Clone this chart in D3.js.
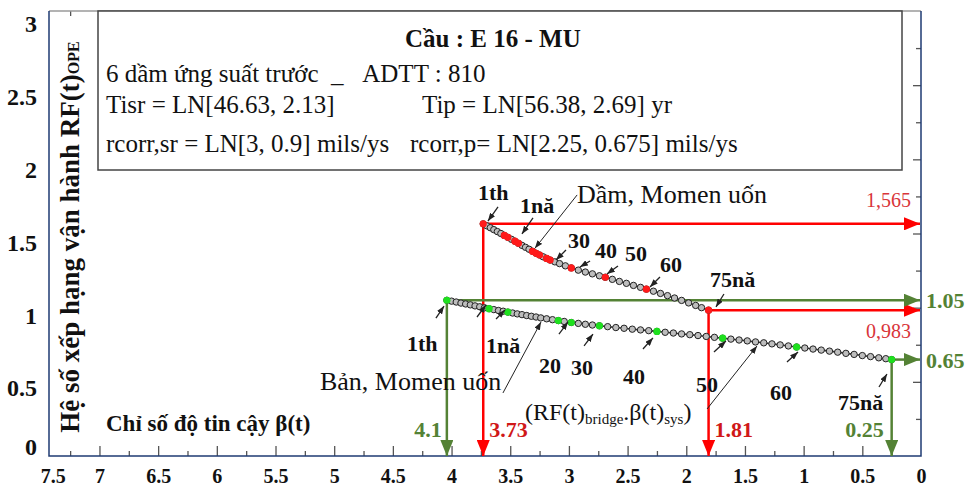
<!DOCTYPE html>
<html>
<head>
<meta charset="utf-8">
<script src="https://d3js.org/d3.v7.min.js"></script>
<style>
  body { margin: 0; background: #fff; }
  text { font-family: "Liberation Serif", "Times New Roman", serif; fill: #111; }
</style>
</head>
<body>
<div id="chart"></div>
<script>
var width = 968, height = 486;

// tick labels
var xLabels = [7.5, 7, 6.5, 6, 5.5, 5, 4.5, 4, 3.5, 3, 2.5, 2, 1.5, 1, 0.5, 0];
var yLabels = [0, 0.5, 1, 1.5, 2, 2.5, 3];

// Dầm, Momen uốn : beta(t) vs RF(t), years 1th -> 75nă
var damBeta = [3.73, 3.70, 3.67, 3.64, 3.61, 3.58, 3.55, 3.52, 3.49, 3.46, 3.43, 3.40, 3.37, 3.34,
  3.31, 3.28, 3.25, 3.22, 3.19, 3.16, 3.12, 3.08, 3.03, 2.98, 2.92, 2.86, 2.80, 2.74, 2.69, 2.63,
  2.57, 2.51, 2.45, 2.39, 2.34, 2.28, 2.22, 2.16, 2.10, 2.04, 1.98, 1.92, 1.87, 1.81];
var damRF = [1.565, 1.552, 1.539, 1.526, 1.513, 1.500, 1.487, 1.474, 1.461, 1.448, 1.434, 1.420, 1.407, 1.394,
  1.380, 1.367, 1.355, 1.343, 1.332, 1.321, 1.309, 1.297, 1.282, 1.268, 1.253, 1.240, 1.228, 1.215, 1.205, 1.191,
  1.177, 1.164, 1.150, 1.137, 1.125, 1.111, 1.096, 1.081, 1.065, 1.049, 1.032, 1.015, 1.000, 0.983];
var damMarked = [0, 6, 7, 9, 10, 14, 15, 16, 18, 19, 23, 28, 34, 43];

// Bản, Momen uốn
var banBeta = [4.04, 4.00, 3.96, 3.92, 3.88, 3.84, 3.80, 3.76, 3.72, 3.68, 3.64, 3.60, 3.56, 3.52, 3.48,
  3.44, 3.40, 3.36, 3.32, 3.28, 3.24, 3.19, 3.14, 3.09, 3.04, 2.98, 2.92, 2.86, 2.80, 2.74, 2.67, 2.60,
  2.53, 2.46, 2.39, 2.32, 2.25, 2.18, 2.11, 2.04, 1.97, 1.90, 1.83, 1.76, 1.69, 1.62, 1.55, 1.48, 1.41,
  1.34, 1.27, 1.20, 1.13, 1.06, 0.99, 0.92, 0.85, 0.78, 0.71, 0.64, 0.57, 0.50, 0.43, 0.36, 0.30, 0.25];
var banRF = [1.050, 1.044, 1.038, 1.031, 1.025, 1.019, 1.012, 1.006, 0.999, 0.993, 0.987, 0.981, 0.976, 0.970, 0.964,
  0.958, 0.953, 0.947, 0.942, 0.937, 0.931, 0.925, 0.919, 0.913, 0.907, 0.900, 0.894, 0.888, 0.883, 0.878, 0.872, 0.866,
  0.861, 0.855, 0.850, 0.845, 0.840, 0.834, 0.829, 0.823, 0.818, 0.812, 0.806, 0.800, 0.794, 0.788, 0.782, 0.776, 0.769,
  0.763, 0.756, 0.749, 0.742, 0.735, 0.728, 0.721, 0.714, 0.707, 0.700, 0.692, 0.685, 0.677, 0.670, 0.662, 0.656, 0.650];
var banMarked = [0, 9, 13, 23, 25, 29, 36, 44, 53, 65];

// first and last point of each curve [beta, RF] and the numbers written for them
var damEnds = [[3.73, 1.565], [1.81, 0.983]];
var damEndText = [["3.73", "1,565"], ["1.81", "0,983"]];
var banEnds = [[4.04, 1.05], [0.25, 0.65]];
var banEndText = [["4.1", "1.05"], ["0.25", "0.65"]];

// year notes: text, label beta, label RF, arrow from (beta, RF), arrow to (beta, RF)
var damNotes = [
  ["1th", 3.775, 1.726, 3.604, 1.679, 3.690, 1.584],
  ["1nă", 3.417, 1.638, 3.306, 1.605, 3.400, 1.497],
  ["30", 3.008, 1.402, 3.025, 1.389, 3.110, 1.321],
  ["40", 2.778, 1.335, 2.820, 1.315, 2.906, 1.274],
  ["50", 2.522, 1.315, 2.582, 1.281, 2.676, 1.227],
  ["60", 2.224, 1.240, 2.224, 1.207, 2.309, 1.139],
  ["75nă", 1.798, 1.139, 1.679, 1.092, 1.747, 1.005]
];
var banNotes = [
  ["1th", 4.380, 0.708, 4.133, 0.930, 4.064, 1.011],
  ["1nă", 3.707, 0.694, 3.783, 0.937, 3.707, 1.018],
  ["", 0, 0, 3.621, 0.924, 3.545, 0.984],
  ["20", 3.255, 0.560, 3.085, 0.822, 3.008, 0.903],
  ["30", 2.982, 0.546, 2.871, 0.742, 2.795, 0.822],
  ["40", 2.539, 0.485, 2.369, 0.721, 2.284, 0.796],
  ["50", 1.917, 0.431, 1.764, 0.701, 1.662, 0.775],
  ["60", 1.287, 0.378, 1.142, 0.634, 1.048, 0.701],
  ["75nă", 0.707, 0.310, 0.358, 0.465, 0.290, 0.553]
];
var curveNames = [
  ["Dầm, Momen uốn", 2.931, 1.706, 2.93, 1.76, 3.29, 1.40],
  ["Bản, Momen uốn", 5.121, 0.445, 3.562, 0.425, 3.238, 0.903]
];

var red = "#ff0000", green = "#548235";

var svg = d3.select("#chart").append("svg")
    .attr("width", width)
    .attr("height", height);

var x = d3.scaleLinear().domain([7.43, 0]).range([49, 921]);
var y = d3.scaleLinear().domain([0, 3]).range([456, 11]);
// tick labels of the y axis sit a little lower than the ticks
var yText = d3.scaleLinear().domain([0, 3]).range([461, 24]);

var defs = svg.append("defs");
function arrowHead(id, color, w, h){
  defs.append("marker").attr("id", id)
    .attr("viewBox", "0 0 " + w + " " + h)
    .attr("markerWidth", w).attr("markerHeight", h)
    .attr("markerUnits", "userSpaceOnUse")
    .attr("refX", w).attr("refY", h / 2)
    .attr("orient", "auto")
    .append("path")
    .attr("d", "M0,0L" + w + "," + (h / 2) + "L0," + h + "Z")
    .attr("fill", color);
}
arrowHead("redHead", red, 16, 13);
arrowHead("greenHead", green, 16, 13);
arrowHead("blackHead", "#222", 8, 6);

// ticks
var xMajor = d3.range(1, 15).map(function(d){ return d * 0.5; });
var xMinor = d3.range(0, 15).map(function(d){ return d * 0.5 + 0.25; });
var yMajor = [0.5, 1, 1.5, 2, 2.5];
var yMinor = [0.25, 0.75, 1.25, 1.75, 2.25, 2.75];

function ticks(g){ g.select(".domain").remove(); g.selectAll("line").attr("stroke", "#555").attr("stroke-width", 1.3); }

svg.append("g").attr("transform", "translate(0," + y(0) + ")")
  .call(d3.axisTop(x).tickValues(xMajor).tickSize(10).tickFormat("")).call(ticks);
svg.append("g").attr("transform", "translate(0," + y(0) + ")")
  .call(d3.axisTop(x).tickValues(xMinor).tickSize(5).tickFormat("")).call(ticks);
svg.append("g").attr("transform", "translate(0," + y(3) + ")")
  .call(d3.axisBottom(x).tickValues(xMajor).tickSize(10).tickFormat("")).call(ticks);
svg.append("g").attr("transform", "translate(0," + y(3) + ")")
  .call(d3.axisBottom(x).tickValues(xMinor).tickSize(5).tickFormat("")).call(ticks);
svg.append("g").attr("transform", "translate(" + x(0) + ",0)")
  .call(d3.axisLeft(y).tickValues(yMajor).tickSize(8).tickFormat("")).call(ticks);
svg.append("g").attr("transform", "translate(" + x(0) + ",0)")
  .call(d3.axisLeft(y).tickValues(yMinor).tickSize(5).tickFormat("")).call(ticks);

// tick labels
var xl = svg.append("g").attr("transform", "translate(0," + y(0) + ")")
  .call(d3.axisBottom(x).tickValues(xLabels).tickSize(0).tickPadding(13).tickFormat(d3.format("")));
xl.select(".domain").remove();
xl.selectAll("text").style("font-size", "20px").style("font-weight", "bold")
  .attr("fill", "#111").style("font-family", "Liberation Serif")
  .attr("dx", function(d){ return d === 7.5 ? 12 : 0; });

var yl = svg.append("g").attr("transform", "translate(37,0)")
  .call(d3.axisLeft(yText).tickValues(yLabels).tickSize(0).tickPadding(0).tickFormat(d3.format("")));
yl.select(".domain").remove();
yl.selectAll("text").style("font-size", "24px").style("font-weight", "bold")
  .attr("fill", "#111").style("font-family", "Liberation Serif")
  .attr("y", function(d){ return d === 0 ? -14 : 0; });

// frame
svg.append("path").attr("d", "M49,11H921").attr("stroke", "#9a9a9a").attr("stroke-width", 1.5).attr("fill", "none");
svg.append("path").attr("d", "M49,11V456H921V11").attr("stroke", "#1f3b73").attr("stroke-width", 1.5).attr("fill", "none");

// info box
svg.append("rect").attr("x", 98).attr("y", 11).attr("width", 804).attr("height", 159)
  .attr("fill", "#fff").attr("stroke", "#444").attr("stroke-width", 1.5);
var info = svg.append("g").style("font-size", "25px");
info.append("text").attr("x", 405).attr("y", 47).style("font-size", "25px").style("font-weight", "bold").text("Cầu : E 16 - MU");
info.append("text").attr("x", 106).attr("y", 82).text("6 dầm ứng suất trước \u00a0_ \u00a0\u00a0ADTT : 810");
info.append("text").attr("x", 106).attr("y", 113).text("Tisr = LN[46.63, 2.13]");
info.append("text").attr("x", 422).attr("y", 113).text("Tip = LN[56.38, 2.69] yr");
info.append("text").attr("x", 106).attr("y", 152).text("rcorr,sr = LN[3, 0.9] mils/ys");
info.append("text").attr("x", 410).attr("y", 152).text("rcorr,p= LN[2.25, 0.675] mils/ys");

// axis titles
var yt = svg.append("text").attr("transform", "translate(79,237) rotate(-90)")
  .attr("text-anchor", "middle").style("font-weight", "bold").style("font-size", "27px");
yt.append("tspan").text("Hệ số xếp hạng vận hành RF(t)");
yt.append("tspan").style("font-size", "16px").text("OPE");

svg.append("text").attr("x", 106).attr("y", 431).style("font-weight", "bold").style("font-size", "23px")
  .text("Chỉ số độ tin cậy β(t)");

// guide lines from the ends of the curves
function drawGuides(ends, color, head){
  ends.forEach(function(e){
    svg.append("line")
      .attr("x1", x(e[0])).attr("y1", y(e[1])).attr("x2", x(e[0])).attr("y2", y(0))
      .attr("stroke", color).attr("stroke-width", 2.5).attr("marker-end", "url(#" + head + ")");
    svg.append("line")
      .attr("x1", x(e[0])).attr("y1", y(e[1])).attr("x2", x(0) - 1).attr("y2", y(e[1]))
      .attr("stroke", color).attr("stroke-width", 2.5).attr("marker-end", "url(#" + head + ")");
  });
}
drawGuides(damEnds, red, "redHead");
drawGuides(banEnds, green, "greenHead");

// numbers at the guide lines
var bottomText = svg.append("g").style("font-weight", "bold").style("font-size", "22px");
bottomText.append("text").attr("x", x(banEnds[0][0]) - 5).attr("y", y(0) - 19).attr("text-anchor", "end")
  .style("fill", green).text(banEndText[0][0]);
bottomText.append("text").attr("x", x(damEnds[0][0]) + 6).attr("y", y(0) - 19)
  .style("fill", "#d01818").text(damEndText[0][0]);
bottomText.append("text").attr("x", x(damEnds[1][0]) + 6).attr("y", y(0) - 19)
  .style("fill", "#d01818").text(damEndText[1][0]);
bottomText.append("text").attr("x", x(banEnds[1][0]) - 8).attr("y", y(0) - 19).attr("text-anchor", "end")
  .style("fill", green).text(banEndText[1][0]);

var sideRed = svg.append("g").style("font-family", "Liberation Sans, Arial, sans-serif").style("font-size", "20px");
sideRed.append("text").attr("x", 911).attr("y", y(damEnds[0][1]) - 17).attr("text-anchor", "end")
  .style("fill", "#d9353a").text(damEndText[0][1]);
sideRed.append("text").attr("x", 911).attr("y", y(damEnds[1][1]) + 28).attr("text-anchor", "end")
  .style("fill", "#d9353a").text(damEndText[1][1]);

var sideGreen = svg.append("g").style("font-weight", "bold").style("font-size", "22px");
banEnds.forEach(function(e, i){
  sideGreen.append("text").attr("x", 926).attr("y", y(e[1]) + 8).style("fill", green).text(banEndText[i][1]);
});

// curves: chain of small circles, some years coloured
function drawCurve(betas, rfs, marked, hot){
  var pts = betas.map(function(b, i){ return [b, rfs[i]]; });
  var g = svg.append("g");
  g.append("path")
    .attr("d", d3.line().x(function(d){ return x(d[0]); }).y(function(d){ return y(d[1]); })(pts))
    .attr("fill", "none").attr("stroke", "#333").attr("stroke-width", 1.6);
  g.selectAll("circle.dot").data(pts).enter().append("circle")
    .attr("class", "dot")
    .attr("cx", function(d){ return x(d[0]); })
    .attr("cy", function(d){ return y(d[1]); })
    .attr("r", 3.2)
    .attr("fill", "#bdbdbd").attr("stroke", "#222").attr("stroke-width", 1);
  g.selectAll("circle.hot").data(marked.map(function(i){ return pts[i]; })).enter().append("circle")
    .attr("class", "hot")
    .attr("cx", function(d){ return x(d[0]); })
    .attr("cy", function(d){ return y(d[1]); })
    .attr("r", 3.6)
    .attr("fill", hot);
}
drawCurve(damBeta, damRF, damMarked, "#ff1a1a");
drawCurve(banBeta, banRF, banMarked, "#1ee01e");

// notes with small arrows
function drawNotes(notes){
  notes.forEach(function(n){
    if (n[0]) {
      svg.append("text").attr("x", x(n[1])).attr("y", y(n[2]))
        .style("font-weight", "bold").style("font-size", "22px").text(n[0]);
    }
    svg.append("line")
      .attr("x1", x(n[3])).attr("y1", y(n[4])).attr("x2", x(n[5])).attr("y2", y(n[6]))
      .attr("stroke", "#222").attr("stroke-width", 1.3).attr("marker-end", "url(#blackHead)");
  });
}
drawNotes(damNotes);
drawNotes(banNotes);

curveNames.forEach(function(n){
  svg.append("text").attr("x", x(n[1])).attr("y", y(n[2])).style("font-size", "26px").text(n[0]);
  svg.append("line")
    .attr("x1", x(n[3])).attr("y1", y(n[4])).attr("x2", x(n[5])).attr("y2", y(n[6]))
    .attr("stroke", "#222").attr("stroke-width", 1).attr("marker-end", "url(#blackHead)");
});

// (RF(t)bridge.β(t)sys) with its pointer
var rf = svg.append("text").attr("x", 525).attr("y", 420).style("font-size", "24px");
rf.append("tspan").text("(RF(t)");
rf.append("tspan").attr("dy", 4).style("font-size", "15px").text("bridge");
rf.append("tspan").attr("dy", -4).text(".β(t)");
rf.append("tspan").attr("dy", 4).style("font-size", "15px").text("sys");
rf.append("tspan").attr("dy", -4).text(")");
svg.append("line")
  .attr("x1", x(1.823)).attr("y1", y(0.317)).attr("x2", x(1.397)).attr("y2", y(0.742))
  .attr("stroke", "#222").attr("stroke-width", 1).attr("marker-end", "url(#blackHead)");

</script>
</body>
</html>
